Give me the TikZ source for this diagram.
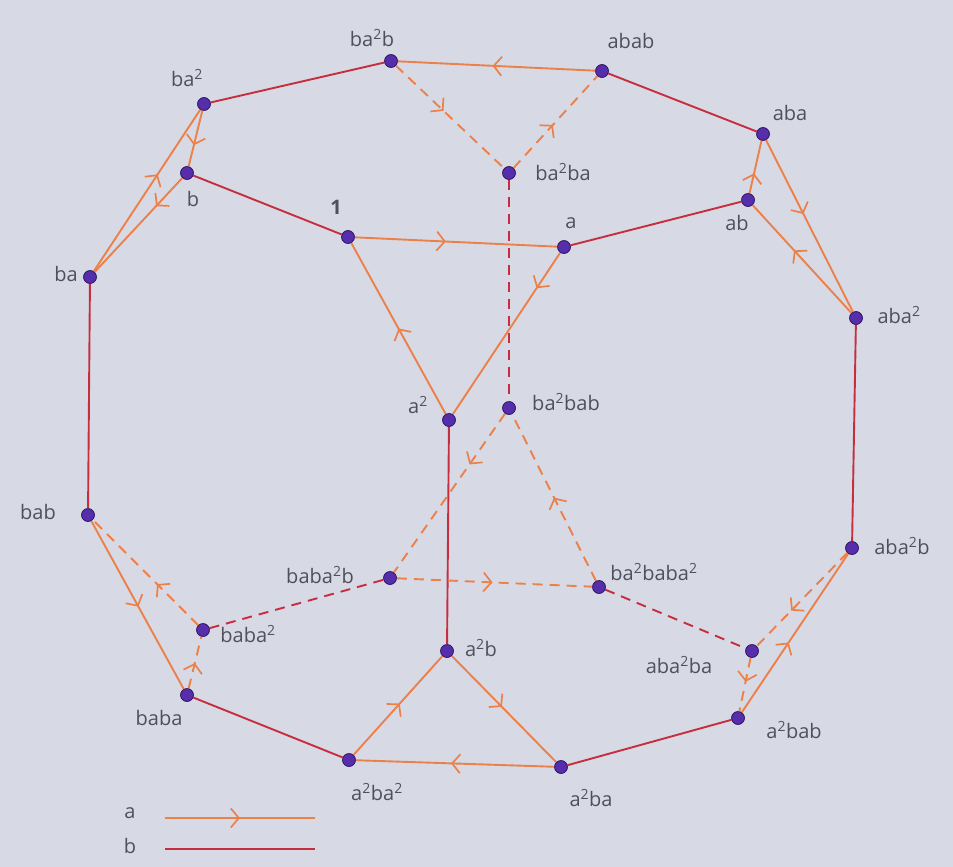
\documentclass[tikz,border=0pt]{standalone}
\usepackage{fontspec}
\setmainfont{Open Sans}
\usetikzlibrary{arrows.meta,decorations.markings}
\definecolor{bg}{RGB}{215,218,228}
\definecolor{aor}{RGB}{236,128,74}
\definecolor{bred}{RGB}{198,46,64}
\definecolor{dotc}{RGB}{86,46,172}
\definecolor{txt}{RGB}{80,80,92}
\newcommand{\sqq}{\textsuperscript{2}}
\begin{document}
\begin{tikzpicture}[x=1pt,y=-1pt,
  vtx/.style={circle,fill=dotc,draw=dotc!60!black,line width=0.6pt,inner sep=0pt,minimum size=13pt},
  lbl/.style={text=txt,font=\fontsize{20}{22}\selectfont,inner sep=1pt},
  aedge/.style={draw=aor,line width=1.9pt,postaction={decorate},
    decoration={markings,mark=at position #1 with {\arrow[aor,line width=1.7pt]{Straight Barb[length=8pt,width=19pt]}}}},
  aedge/.default=0.5,
  bedge/.style={draw=bred,line width=1.9pt},
  dsh/.style={dash pattern=on 10pt off 7pt}]
\fill[bg] (0,0) rectangle (953,867);
\useasboundingbox (0,0) rectangle (953,867);
% vertices
\node[vtx] (n1) at (348,237) {};
\node[vtx] (na) at (564,247) {};
\node[vtx] (naa) at (449,420) {};
\node[vtx] (nb) at (187,173) {};
\node[vtx] (nba) at (90,277) {};
\node[vtx] (nbaa) at (204,104) {};
\node[vtx] (nbaab) at (391,61) {};
\node[vtx] (nabab) at (602,71) {};
\node[vtx] (nbaaba) at (509,173) {};
\node[vtx] (naba) at (763,134) {};
\node[vtx] (nab) at (748,200) {};
\node[vtx] (nabaa) at (856,318) {};
\node[vtx] (nabaab) at (852,548) {};
\node[vtx] (nabaaba) at (752,651) {};
\node[vtx] (naabab) at (738,718) {};
\node[vtx] (naab) at (447,651) {};
\node[vtx] (naaba) at (561,767) {};
\node[vtx] (naabaa) at (349,760) {};
\node[vtx] (nbab) at (88,515) {};
\node[vtx] (nbaba) at (187,695) {};
\node[vtx] (nbabaa) at (203,630) {};
\node[vtx] (nbabaab) at (390,578) {};
\node[vtx] (nbaababaa) at (599,587) {};
\node[vtx] (nbaabab) at (509,408) {};
% b edges
\draw[bedge] (nbaa) -- (nbaab);
\draw[bedge] (nb) -- (n1);
\draw[bedge] (nabab) -- (naba);
\draw[bedge] (na) -- (nab);
\draw[bedge] (nba) -- (nbab);
\draw[bedge] (naa) -- (naab);
\draw[bedge] (nabaa) -- (nabaab);
\draw[bedge] (nbaba) -- (naabaa);
\draw[bedge] (naaba) -- (naabab);
\draw[bedge,dsh] (nbaaba) -- (nbaabab);
\draw[bedge,dsh] (nbabaa) -- (nbabaab);
\draw[bedge,dsh] (nbaababaa) -- (nabaaba);
% a edges
\draw[aedge=0.45] (n1) -- (na);
\draw[aedge=0.22] (na) -- (naa);
\draw[aedge=0.5] (naa) -- (n1);
\draw[aedge=0.52] (nabab) -- (nbaab);
\draw[aedge=0.44,dsh] (nbaab) -- (nbaaba);
\draw[aedge=0.47,dsh] (nbaaba) -- (nabab);
\draw[aedge=0.62] (nbaa) -- (nb);
\draw[aedge=0.3] (nb) -- (nba);
\draw[aedge=0.6] (nba) -- (nbaa);
\draw[aedge=0.43] (naba) -- (nabaa);
\draw[aedge=0.58] (nabaa) -- (nab);
\draw[aedge=0.38] (nab) -- (naba);
\draw[aedge=0.48] (naab) -- (naaba);
\draw[aedge=0.52] (naaba) -- (naabaa);
\draw[aedge=0.52] (naabaa) -- (naab);
\draw[aedge=0.51] (nbab) -- (nbaba);
\draw[aedge=0.49,dsh] (nbaba) -- (nbabaa);
\draw[aedge=0.39,dsh] (nbabaa) -- (nbab);
\draw[aedge=0.62,dsh] (nabaab) -- (nabaaba);
\draw[aedge=0.45,dsh] (nabaaba) -- (naabab);
\draw[aedge=0.44] (naabab) -- (nabaab);
\draw[aedge=0.32,dsh] (nbaabab) -- (nbabaab);
\draw[aedge=0.49,dsh] (nbabaab) -- (nbaababaa);
\draw[aedge=0.5,dsh] (nbaababaa) -- (nbaabab);
% redraw dots on top
\foreach \n in {n1,na,naa,nb,nba,nbaa,nbaab,nabab,nbaaba,naba,nab,nabaa,nabaab,nabaaba,naabab,naab,naaba,naabaa,nbab,nbaba,nbabaa,nbabaab,nbaababaa,nbaabab}
  \filldraw[fill=dotc,draw=dotc!60!black,line width=0.6pt] (\n) circle (6.3pt);
% labels
\node[lbl] (l1) at (336,207) {\textbf{1}};
\node[lbl] (la) at (571,223) {a};
\node[lbl] (laa) at (418,405) {a\sqq};
\node[lbl] (lb) at (193,199) {b};
\node[lbl] (lba) at (66,274) {ba};
\node[lbl] (lbaa) at (187,78) {ba\sqq};
\node[lbl] (lbaab) at (372,38) {ba\sqq b};
\node[lbl] (labab) at (631,41) {abab};
\node[lbl] (lbaaba) at (563,172) {ba\sqq ba};
\node[lbl] (laba) at (790,113) {aba};
\node[lbl] (lab) at (737,223) {ab};
\node[lbl] (labaa) at (899,315) {aba\sqq};
\node[lbl] (labaab) at (902,546) {aba\sqq b};
\node[lbl] (labaaba) at (679,665) {aba\sqq ba};
\node[lbl] (laabab) at (794,730) {a\sqq bab};
\node[lbl] (laab) at (481,648) {a\sqq b};
\node[lbl] (laaba) at (591,798) {a\sqq ba};
\node[lbl] (laabaa) at (377,792) {a\sqq ba\sqq};
\node[lbl] (lbab) at (38,512) {bab};
\node[lbl] (lbaba) at (159,718) {baba};
\node[lbl] (lbabaa) at (248,634) {baba\sqq};
\node[lbl] (lbabaab) at (320,575) {baba\sqq b};
\node[lbl] (lbaababaa) at (654,572) {ba\sqq baba\sqq};
\node[lbl] (lbaabab) at (566,402) {ba\sqq bab};
% legend
\node[lbl] (lga) at (130,813) {a};
\node[lbl] (lgb) at (130,846) {b};
\coordinate (ga1) at (165,818);
\coordinate (ga2) at (315,818);
\coordinate (gb1) at (165,849);
\coordinate (gb2) at (315,849);
\draw[aedge=0.5] (ga1) -- (ga2);
\draw[bedge] (gb1) -- (gb2);
\end{tikzpicture}
\end{document}
